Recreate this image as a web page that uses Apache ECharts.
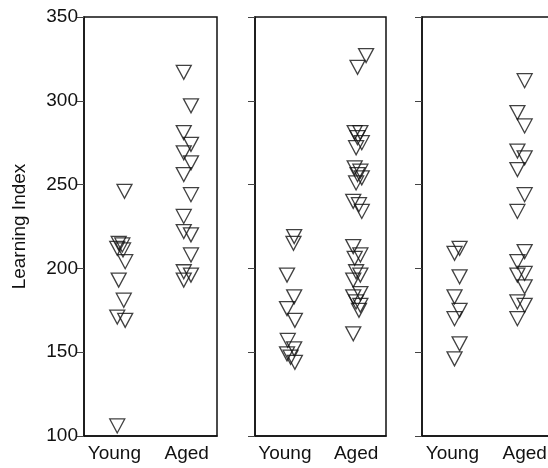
<!DOCTYPE html>
<html><head><meta charset="utf-8">
<script src="https://cdn.jsdelivr.net/npm/echarts@6/dist/echarts.min.js"></script>
<style>html,body{margin:0;padding:0;background:#fff}#c{width:548px;height:468px}</style>
</head><body><div id="c"></div><script>
const categories = ['Young', 'Aged'];
const yMin = 100, yMax = 350, yStep = 50;
const yAxisTitle = 'Learning Index';

// Panel 1
const p1Young    = [246, 215, 214, 212, 211, 204, 193, 181, 171, 169, 106];
const p1YoungJit = [0.14, 0.06, 0.11, 0.04, 0.12, 0.15, 0.06, 0.13, 0.04, 0.15, 0.04];
const p1Aged     = [317, 297, 281, 274, 269, 263, 256, 244, 231, 222, 220, 208, 198, 196, 193];
const p1AgedJit  = [-0.04, 0.06, -0.04, 0.06, -0.04, 0.06, -0.04, 0.06, -0.04, -0.04, 0.06, 0.06, -0.04, 0.06, -0.04];
// Panel 2
const p2Young    = [219, 215, 196, 183, 176, 169, 157, 152, 149, 147, 144];
const p2YoungJit = [0.13, 0.12, 0.03, 0.13, 0.03, 0.14, 0.04, 0.13, 0.03, 0.08, 0.14];
const p2Aged     = [327, 320, 281, 281, 278, 275, 272, 260, 258, 256, 254, 251, 240, 238, 234, 213, 208, 206, 198, 196, 193, 185, 183, 180, 178, 175, 161];
const p2AgedJit  = [0.14, 0.02, -0.02, 0.06, 0.02, 0.08, 0.0, -0.02, 0.06, 0.02, 0.08, 0.0, -0.04, 0.04, 0.08, -0.04, 0.06, -0.02, 0.0, 0.06, -0.04, 0.06, -0.04, 0.0, 0.06, 0.04, -0.04];
// Panel 3
const p3Young    = [212, 209, 195, 183, 175, 170, 155, 146];
const p3YoungJit = [0.1, 0.03, 0.1, 0.03, 0.1, 0.03, 0.1, 0.03];
const p3Aged     = [312, 293, 285, 270, 266, 259, 244, 234, 210, 204, 197, 196, 189, 180, 178, 170];
const p3AgedJit  = [0.0, -0.1, 0.0, -0.1, 0.0, -0.1, 0.0, -0.1, 0.0, -0.1, 0.0, -0.1, 0.0, -0.1, 0.0, -0.1];

const panels = [
  {young: p1Young, yj: p1YoungJit, aged: p1Aged, aj: p1AgedJit},
  {young: p2Young, yj: p2YoungJit, aged: p2Aged, aj: p2AgedJit},
  {young: p3Young, yj: p3YoungJit, aged: p3Aged, aj: p3AgedJit}
];
const gridBoxes = [
  {left: 84, width: 133},
  {left: 255, width: 131},
  {left: 422, width: 133}
];
const font = 'Liberation Sans, Arial, Helvetica, sans-serif';
const ink = '#111';

const grid = [], xAxis = [], yAxis = [], series = [];
gridBoxes.forEach((g, i) => {
  grid.push({left: g.left, width: g.width, top: 17, height: 419, show: true,
    borderColor: ink, borderWidth: 1.5, backgroundColor: 'transparent',
    containLabel: false, outerBoundsMode: 'none'});
  xAxis.push({type: 'value', gridIndex: i, min: 0.58, max: 2.42,
    axisLine: {show: true, onZero: false, lineStyle: {color: ink, width: 1.5}},
    axisTick: {show: false}, splitLine: {show: false},
    axisLabel: {customValues: [1, 2], formatter: v => categories[Math.round(v) - 1] || '',
      color: ink, fontSize: 19, fontFamily: font, margin: 8}});
  yAxis.push({type: 'value', gridIndex: i, min: yMin, max: yMax, interval: yStep,
    name: i === 0 ? yAxisTitle : '', nameLocation: 'middle', nameGap: 55,
    nameTextStyle: {color: ink, fontSize: 19, fontFamily: font},
    axisLine: {show: true, lineStyle: {color: ink, width: 1.5}},
    axisTick: {show: true, inside: false, length: 7, lineStyle: {color: '#444', width: 1}},
    splitLine: {show: false},
    axisLabel: {show: i === 0, color: ink, fontSize: 19, fontFamily: font, margin: 6}});
  const p = panels[i];
  const mk = (vals, jit, c) => vals.map((v, k) => [c + jit[k], v]);
  [mk(p.young, p.yj, 1), mk(p.aged, p.aj, 2)].forEach(data => {
    series.push({type: 'scatter', xAxisIndex: i, yAxisIndex: i, data,
      symbol: 'triangle', symbolRotate: 180, symbolSize: [15, 14],
      itemStyle: {color: 'rgba(0,0,0,0)', borderColor: '#111', borderWidth: 1.3},
      emphasis: {disabled: true}, silent: true});
  });
});

const chart = echarts.init(document.getElementById('c'), null, {renderer: 'canvas'});
chart.setOption({animation: false, backgroundColor: '#fff', grid, xAxis, yAxis, series});
</script></body></html>
